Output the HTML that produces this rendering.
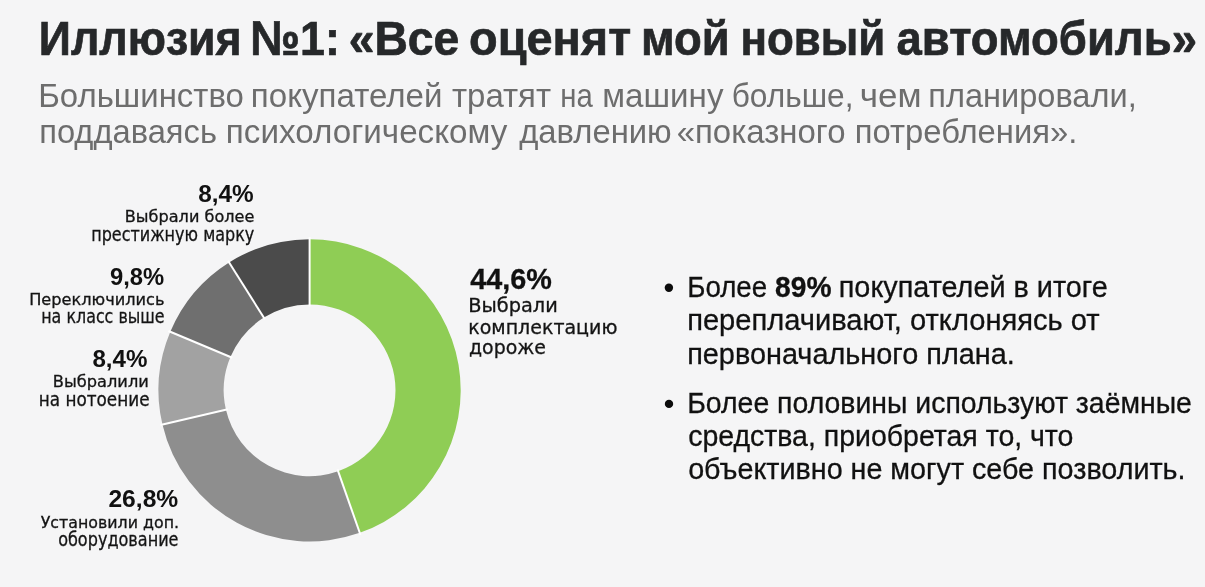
<!DOCTYPE html>
<html lang="ru"><head><meta charset="utf-8"><title>Иллюзия №1</title>
<style>
html,body{margin:0;padding:0;background:#f5f5f6;}
body{width:1205px;height:587px;overflow:hidden;}
svg{display:block;will-change:transform;}
</style></head><body>
<svg width="1205" height="587" viewBox="0 0 1205 587">
<rect width="1205" height="587" fill="#f5f5f6"/>
<path d="M309.60,239.20 A151.1,151.1 0 0 1 359.79,532.82 L338.13,471.32 A85.9,85.9 0 0 0 309.60,304.40 Z" fill="#8fcd55"/>
<path d="M359.79,532.82 A151.1,151.1 0 0 1 162.43,424.55 L225.94,409.77 A85.9,85.9 0 0 0 338.13,471.32 Z" fill="#8e8e8e"/>
<path d="M162.43,424.55 A151.1,151.1 0 0 1 170.31,331.75 L230.41,357.01 A85.9,85.9 0 0 0 225.94,409.77 Z" fill="#a2a2a2"/>
<path d="M170.31,331.75 A151.1,151.1 0 0 1 229.08,262.44 L263.83,317.61 A85.9,85.9 0 0 0 230.41,357.01 Z" fill="#6f6f6f"/>
<path d="M229.08,262.44 A151.1,151.1 0 0 1 309.60,239.20 L309.60,304.40 A85.9,85.9 0 0 0 263.83,317.61 Z" fill="#4b4b4b"/>
<g stroke="#ffffff" stroke-width="2.0"><line x1="309.60" y1="306.40" x2="309.60" y2="237.20"/><line x1="337.47" y1="469.44" x2="360.45" y2="534.71"/><line x1="227.88" y1="409.32" x2="160.48" y2="425.00"/><line x1="232.26" y1="357.79" x2="168.46" y2="330.97"/><line x1="264.89" y1="319.30" x2="228.02" y2="260.75"/></g>
<circle cx="668.9" cy="287.8" r="4.2" fill="#0c0c0c"/><circle cx="669.0" cy="403.9" r="4.2" fill="#0c0c0c"/>
<text x="38.85" y="54.6" textLength="202.82" lengthAdjust="spacingAndGlyphs" style='font-family:"Liberation Sans", sans-serif;font-size:48.8px;font-weight:700;fill:#26282a;stroke:#26282a;stroke-width:0.7px'>Иллюзия</text>
<text x="250.25" y="54.6" textLength="89.54" lengthAdjust="spacingAndGlyphs" style='font-family:"Liberation Sans", sans-serif;font-size:48.8px;font-weight:700;fill:#26282a;stroke:#26282a;stroke-width:0.7px'>№1:</text>
<text x="348.70" y="54.6" textLength="110.67" lengthAdjust="spacingAndGlyphs" style='font-family:"Liberation Sans", sans-serif;font-size:48.8px;font-weight:700;fill:#26282a;stroke:#26282a;stroke-width:0.7px'>«Все</text>
<text x="469.08" y="54.6" textLength="162.09" lengthAdjust="spacingAndGlyphs" style='font-family:"Liberation Sans", sans-serif;font-size:48.8px;font-weight:700;fill:#26282a;stroke:#26282a;stroke-width:0.7px'>оценят</text>
<text x="640.91" y="54.6" textLength="88.74" lengthAdjust="spacingAndGlyphs" style='font-family:"Liberation Sans", sans-serif;font-size:48.8px;font-weight:700;fill:#26282a;stroke:#26282a;stroke-width:0.7px'>мой</text>
<text x="740.50" y="54.6" textLength="144.75" lengthAdjust="spacingAndGlyphs" style='font-family:"Liberation Sans", sans-serif;font-size:48.8px;font-weight:700;fill:#26282a;stroke:#26282a;stroke-width:0.7px'>новый</text>
<text x="896.57" y="54.6" textLength="300.42" lengthAdjust="spacingAndGlyphs" style='font-family:"Liberation Sans", sans-serif;font-size:48.8px;font-weight:700;fill:#26282a;stroke:#26282a;stroke-width:0.7px'>автомобиль»</text>
<text x="38.20" y="107.4" textLength="205.69" lengthAdjust="spacingAndGlyphs" style='font-family:"Liberation Sans", sans-serif;font-size:33px;font-weight:400;fill:#6d6d6d'>Большинство</text>
<text x="250.89" y="107.4" textLength="191.59" lengthAdjust="spacingAndGlyphs" style='font-family:"Liberation Sans", sans-serif;font-size:33px;font-weight:400;fill:#6d6d6d'>покупателей</text>
<text x="452.00" y="107.4" textLength="99.00" lengthAdjust="spacingAndGlyphs" style='font-family:"Liberation Sans", sans-serif;font-size:33px;font-weight:400;fill:#6d6d6d'>тратят</text>
<text x="560.22" y="107.4" textLength="32.50" lengthAdjust="spacingAndGlyphs" style='font-family:"Liberation Sans", sans-serif;font-size:33px;font-weight:400;fill:#6d6d6d'>на</text>
<text x="602.29" y="107.4" textLength="121.19" lengthAdjust="spacingAndGlyphs" style='font-family:"Liberation Sans", sans-serif;font-size:33px;font-weight:400;fill:#6d6d6d'>машину</text>
<text x="731.68" y="107.4" textLength="121.78" lengthAdjust="spacingAndGlyphs" style='font-family:"Liberation Sans", sans-serif;font-size:33px;font-weight:400;fill:#6d6d6d'>больше,</text>
<text x="859.68" y="107.4" textLength="61.79" lengthAdjust="spacingAndGlyphs" style='font-family:"Liberation Sans", sans-serif;font-size:33px;font-weight:400;fill:#6d6d6d'>чем</text>
<text x="928.33" y="107.4" textLength="208.35" lengthAdjust="spacingAndGlyphs" style='font-family:"Liberation Sans", sans-serif;font-size:33px;font-weight:400;fill:#6d6d6d'>планировали,</text>
<text x="39.22" y="143.4" textLength="177.70" lengthAdjust="spacingAndGlyphs" style='font-family:"Liberation Sans", sans-serif;font-size:33px;font-weight:400;fill:#6d6d6d'>поддаваясь</text>
<text x="225.89" y="143.4" textLength="281.49" lengthAdjust="spacingAndGlyphs" style='font-family:"Liberation Sans", sans-serif;font-size:33px;font-weight:400;fill:#6d6d6d'>психологическому</text>
<text x="519.20" y="143.4" textLength="152.50" lengthAdjust="spacingAndGlyphs" style='font-family:"Liberation Sans", sans-serif;font-size:33px;font-weight:400;fill:#6d6d6d'>давлению</text>
<text x="676.70" y="143.4" textLength="168.79" lengthAdjust="spacingAndGlyphs" style='font-family:"Liberation Sans", sans-serif;font-size:33px;font-weight:400;fill:#6d6d6d'>«показного</text>
<text x="854.81" y="143.4" textLength="222.50" lengthAdjust="spacingAndGlyphs" style='font-family:"Liberation Sans", sans-serif;font-size:33px;font-weight:400;fill:#6d6d6d'>потребления».</text>
<text x="198.21" y="202.1" textLength="55.46" lengthAdjust="spacingAndGlyphs" style='font-family:"Liberation Sans", sans-serif;font-size:24.7px;font-weight:700;fill:#111111'>8,4%</text>
<text x="124.83" y="222.2" textLength="129.53" lengthAdjust="spacingAndGlyphs" style='font-family:"DejaVu Sans", sans-serif;font-size:15.6px;font-weight:400;fill:#141414;stroke:#141414;stroke-width:0.3px'>Выбрали более</text>
<text x="91.20" y="240.8" textLength="163.14" lengthAdjust="spacingAndGlyphs" style='font-family:"DejaVu Sans", sans-serif;font-size:18.8px;font-weight:400;fill:#141414;stroke:#141414;stroke-width:0.3px'>престижную марку</text>
<text x="109.94" y="284.8" textLength="54.23" lengthAdjust="spacingAndGlyphs" style='font-family:"Liberation Sans", sans-serif;font-size:24.7px;font-weight:700;fill:#111111'>9,8%</text>
<text x="29.23" y="305.2" textLength="135.24" lengthAdjust="spacingAndGlyphs" style='font-family:"DejaVu Sans", sans-serif;font-size:15.6px;font-weight:400;fill:#141414;stroke:#141414;stroke-width:0.3px'>Переключились</text>
<text x="41.21" y="323.4" textLength="123.45" lengthAdjust="spacingAndGlyphs" style='font-family:"DejaVu Sans", sans-serif;font-size:18.8px;font-weight:400;fill:#141414;stroke:#141414;stroke-width:0.3px'>на класс выше</text>
<text x="92.42" y="366.6" textLength="55.05" lengthAdjust="spacingAndGlyphs" style='font-family:"Liberation Sans", sans-serif;font-size:24.7px;font-weight:700;fill:#111111'>8,4%</text>
<text x="52.82" y="387.4" textLength="96.03" lengthAdjust="spacingAndGlyphs" style='font-family:"DejaVu Sans", sans-serif;font-size:15.6px;font-weight:400;fill:#141414;stroke:#141414;stroke-width:0.3px'>Выбралили</text>
<text x="38.71" y="405.9" textLength="110.80" lengthAdjust="spacingAndGlyphs" style='font-family:"DejaVu Sans", sans-serif;font-size:18.8px;font-weight:400;fill:#141414;stroke:#141414;stroke-width:0.3px'>на нотоение</text>
<text x="108.40" y="507" textLength="69.91" lengthAdjust="spacingAndGlyphs" style='font-family:"Liberation Sans", sans-serif;font-size:24.7px;font-weight:700;fill:#111111'>26,8%</text>
<text x="40.70" y="527.6" textLength="138.33" lengthAdjust="spacingAndGlyphs" style='font-family:"DejaVu Sans", sans-serif;font-size:15.6px;font-weight:400;fill:#141414;stroke:#141414;stroke-width:0.3px'>Установили доп.</text>
<text x="58.14" y="545.6" textLength="120.36" lengthAdjust="spacingAndGlyphs" style='font-family:"DejaVu Sans", sans-serif;font-size:18.8px;font-weight:400;fill:#141414;stroke:#141414;stroke-width:0.3px'>оборудование</text>
<text x="470.30" y="288.7" textLength="81.57" lengthAdjust="spacingAndGlyphs" style='font-family:"Liberation Sans", sans-serif;font-size:30px;font-weight:700;fill:#111111;stroke:#111111;stroke-width:0.3px'>44,6%</text>
<text x="468.22" y="312.2" textLength="89.50" lengthAdjust="spacingAndGlyphs" style='font-family:"DejaVu Sans", sans-serif;font-size:18.6px;font-weight:400;fill:#141414;stroke:#141414;stroke-width:0.3px'>Выбрали</text>
<text x="468.26" y="333.8" textLength="149.13" lengthAdjust="spacingAndGlyphs" style='font-family:"DejaVu Sans", sans-serif;font-size:18.6px;font-weight:400;fill:#141414;stroke:#141414;stroke-width:0.3px'>комплектацию</text>
<text x="468.98" y="353.7" textLength="76.94" lengthAdjust="spacingAndGlyphs" style='font-family:"DejaVu Sans", sans-serif;font-size:18.6px;font-weight:400;fill:#141414;stroke:#141414;stroke-width:0.3px'>дороже</text>
<text x="687.25" y="296.8" textLength="79.92" lengthAdjust="spacingAndGlyphs" style='font-family:"Liberation Sans", sans-serif;font-size:30px;font-weight:400;fill:#111111;stroke:#111111;stroke-width:0.3px'>Более</text>
<text x="775.06" y="296.8" textLength="56.42" lengthAdjust="spacingAndGlyphs" style='font-family:"Liberation Sans", sans-serif;font-size:30px;font-weight:700;fill:#111111;stroke:#111111;stroke-width:0.3px'>89%</text>
<text x="838.78" y="296.8" textLength="268.90" lengthAdjust="spacingAndGlyphs" style='font-family:"Liberation Sans", sans-serif;font-size:30px;font-weight:400;fill:#111111;stroke:#111111;stroke-width:0.3px'>покупателей в итоге</text>
<text x="687.16" y="330.4" textLength="412.55" lengthAdjust="spacingAndGlyphs" style='font-family:"Liberation Sans", sans-serif;font-size:30px;font-weight:400;fill:#111111;stroke:#111111;stroke-width:0.3px'>переплачивают, отклоняясь от</text>
<text x="687.18" y="363.8" textLength="327.66" lengthAdjust="spacingAndGlyphs" style='font-family:"Liberation Sans", sans-serif;font-size:30px;font-weight:400;fill:#111111;stroke:#111111;stroke-width:0.3px'>первоначального плана.</text>
<text x="687.21" y="412.6" textLength="504.70" lengthAdjust="spacingAndGlyphs" style='font-family:"Liberation Sans", sans-serif;font-size:30px;font-weight:400;fill:#111111;stroke:#111111;stroke-width:0.3px'>Более половины используют заёмные</text>
<text x="688.15" y="445.7" textLength="385.28" lengthAdjust="spacingAndGlyphs" style='font-family:"Liberation Sans", sans-serif;font-size:30px;font-weight:400;fill:#111111;stroke:#111111;stroke-width:0.3px'>средства, приобретая то, что</text>
<text x="688.14" y="478.7" textLength="497.39" lengthAdjust="spacingAndGlyphs" style='font-family:"Liberation Sans", sans-serif;font-size:30px;font-weight:400;fill:#111111;stroke:#111111;stroke-width:0.3px'>объективно не могут себе позволить.</text>
</svg>
</body></html>
